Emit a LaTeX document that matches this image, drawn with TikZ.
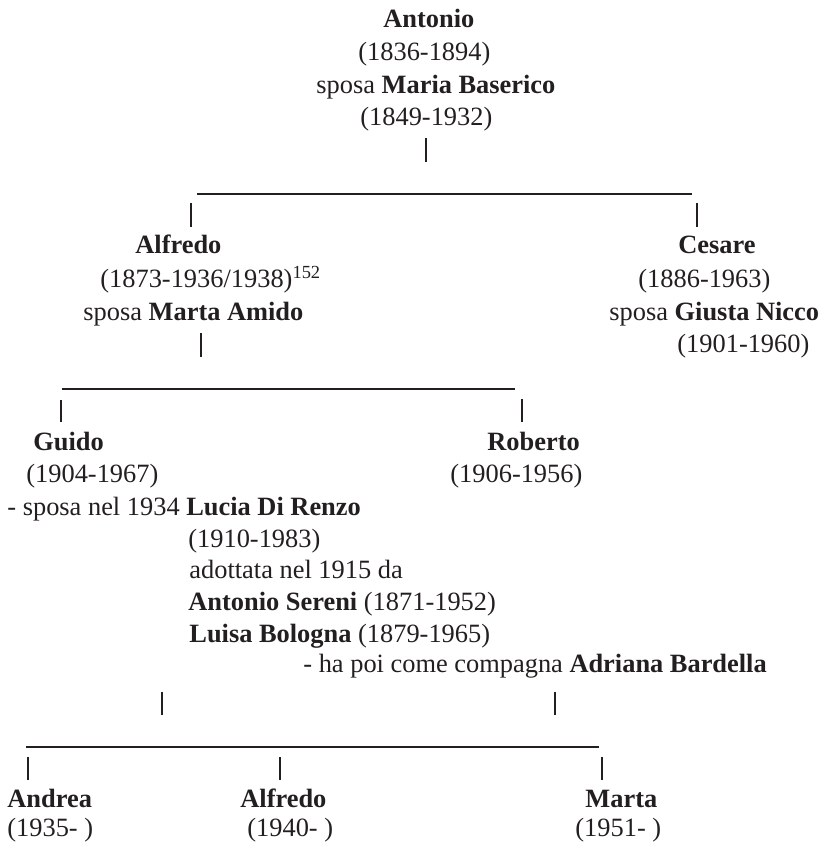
\documentclass[tikz,border=0pt]{standalone}
\usepackage{fontspec}
\setmainfont{Liberation Serif}
\usepackage{xcolor}
\usepackage{tikz}
\definecolor{ink}{HTML}{231F20}
\tikzset{
  bar/.style={draw=ink, line width=0.55pt},
  rule/.style={draw=ink, line width=0.8pt},
  lbl/.style={text=ink, inner sep=0pt, anchor=base west, font=\fontsize{13.2}{16}\selectfont}
}

\begin{document}
\begin{tikzpicture}[x=0.5pt,y=-0.5pt]
  \useasboundingbox (0,0) rectangle (823,844);

  % Antonio
  \node[lbl] (ant1) at (383,28) {\textbf{Antonio}};
  \node[lbl] (ant2) at (358,61) {(1836-1894)};
  \node[lbl] (ant3) at (316,94) {sposa \textbf{Maria Baserico}};
  \node[lbl] (ant4) at (360,126) {(1849-1932)};
  \coordinate (antA) at (426,138);
  \coordinate (antB) at (426,162);
  \draw[bar] (antA) -- (antB);

  % first row of children
  \coordinate (r1L) at (197,194);
  \coordinate (r1R) at (692,194);
  \draw[rule] (r1L) -- (r1R);
  \coordinate (alfA) at (191,203);
  \coordinate (alfB) at (191,227);
  \draw[bar] (alfA) -- (alfB);
  \coordinate (cesA) at (697,203);
  \coordinate (cesB) at (697,227);
  \draw[bar] (cesA) -- (cesB);

  % Alfredo
  \node[lbl] (alf1) at (135,254) {\textbf{Alfredo}};
  \node[lbl] (alf2) at (100,287) {(1873-1936/1938)\textsuperscript{152}};
  \node[lbl] (alf3) at (83,320) {sposa \textbf{Marta Amido}};
  \coordinate (alfC) at (201,333);
  \coordinate (alfD) at (201,357);
  \draw[bar] (alfC) -- (alfD);

  % Cesare
  \node[lbl] (ces1) at (678,254) {\textbf{Cesare}};
  \node[lbl] (ces2) at (638,287) {(1886-1963)};
  \node[lbl] (ces3) at (609,320) {sposa \textbf{Giusta Nicco}};
  \node[lbl] (ces4) at (677,352) {(1901-1960)};

  % second row
  \coordinate (r2L) at (62,389);
  \coordinate (r2R) at (515,389);
  \draw[rule] (r2L) -- (r2R);
  \coordinate (guiA) at (61,400);
  \coordinate (guiB) at (61,422);
  \draw[bar] (guiA) -- (guiB);
  \coordinate (robA) at (522,399);
  \coordinate (robB) at (522,422);
  \draw[bar] (robA) -- (robB);

  % Guido
  \node[lbl] (gui1) at (33,450) {\textbf{Guido}};
  \node[lbl] (gui2) at (26,482) {(1904-1967)};
  \node[lbl] (gui3) at (7,515) {- sposa nel 1934 \textbf{Lucia Di Renzo}};
  \node[lbl] (luc1) at (188,547) {(1910-1983)};
  \node[lbl] (luc2) at (189,578) {adottata nel 1915 da};
  \node[lbl] (luc3) at (188,610) {\textbf{Antonio Sereni} (1871-1952)};
  \node[lbl] (luc4) at (189,642) {\textbf{Luisa Bologna} (1879-1965)};
  \node[lbl] (gui4) at (303,672) {- ha poi come compagna \textbf{Adriana Bardella}};

  % Roberto
  \node[lbl] (rob1) at (487,450) {\textbf{Roberto}};
  \node[lbl] (rob2) at (450,482) {(1906-1956)};

  % third row
  \coordinate (lucA) at (162,692);
  \coordinate (lucB) at (162,715);
  \draw[bar] (lucA) -- (lucB);
  \coordinate (adrA) at (555,692);
  \coordinate (adrB) at (555,715);
  \draw[bar] (adrA) -- (adrB);
  \coordinate (r3L) at (26,747);
  \coordinate (r3R) at (599,747);
  \draw[rule] (r3L) -- (r3R);
  \coordinate (andA) at (28,757);
  \coordinate (andB) at (28,780);
  \draw[bar] (andA) -- (andB);
  \coordinate (al2A) at (280,757);
  \coordinate (al2B) at (280,780);
  \draw[bar] (al2A) -- (al2B);
  \coordinate (marA) at (602,757);
  \coordinate (marB) at (602,780);
  \draw[bar] (marA) -- (marB);

  % grandchildren
  \node[lbl] (and1) at (7,807) {\textbf{Andrea}};
  \node[lbl] (and2) at (7,836) {(1935- )};
  \node[lbl] (al21) at (240,807) {\textbf{Alfredo}};
  \node[lbl] (al22) at (247,836) {(1940- )};
  \node[lbl] (mar1) at (585,807) {\textbf{Marta}};
  \node[lbl] (mar2) at (575,836) {(1951- )};
\end{tikzpicture}
\end{document}
